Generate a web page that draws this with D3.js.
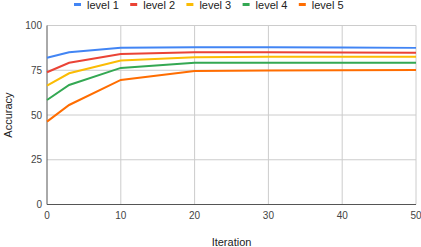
<!DOCTYPE html>
<html>
<head>
<meta charset="utf-8">
<script src="https://cdn.jsdelivr.net/npm/d3@7"></script>
<style>
  body { margin: 0; background: #fff; }
  text { font-family: "Liberation Sans", Arial, sans-serif; }
</style>
</head>
<body>
<div id="chart"></div>
<script>
const iterations = [0, 3, 10, 20, 30, 40, 50];
const seriesNames = ["level 1", "level 2", "level 3", "level 4", "level 5"];
const colors = ["#4285f4", "#ea4335", "#fbbc04", "#34a853", "#ff6d01"];
const level1 = [82.0, 85.0, 87.6, 87.8, 87.8, 87.7, 87.5];
const level2 = [73.9, 79.2, 84.1, 85.0, 85.0, 84.9, 84.8];
const level3 = [66.4, 73.3, 80.5, 82.3, 82.6, 82.6, 82.6];
const level4 = [58.4, 66.8, 76.3, 79.2, 79.2, 79.2, 79.2];
const level5 = [46.3, 55.6, 69.6, 74.6, 74.8, 75.0, 75.2];
const yTicks = [0, 25, 50, 75, 100];
const xTicks = [0, 10, 20, 30, 40, 50];

const series = [level1, level2, level3, level4, level5];

const width = 421, height = 247;
const margin = { top: 25.5, right: 5, bottom: 42.5, left: 47 };

const svg = d3.select("#chart").append("svg")
  .attr("width", width)
  .attr("height", height);

const x = d3.scaleLinear().domain([0, 50]).range([margin.left, width - margin.right]);
const y = d3.scaleLinear().domain([0, 100]).range([height - margin.bottom, margin.top]);

// grid
svg.append("g").selectAll("line.h")
  .data(yTicks.filter(d => d > 0))
  .enter().append("line")
  .attr("x1", margin.left).attr("x2", width - margin.right)
  .attr("y1", d => y(d)).attr("y2", d => y(d))
  .attr("stroke", "#cccccc").attr("stroke-width", 1);

svg.append("g").selectAll("line.v")
  .data(xTicks.filter(d => d > 0))
  .enter().append("line")
  .attr("x1", d => x(d)).attr("x2", d => x(d))
  .attr("y1", margin.top).attr("y2", y(0))
  .attr("stroke", "#cccccc").attr("stroke-width", 1);

// axes lines
svg.append("line")
  .attr("x1", x(0)).attr("x2", x(0))
  .attr("y1", margin.top).attr("y2", y(0))
  .attr("stroke", "#555").attr("stroke-width", 1);
svg.append("line")
  .attr("x1", x(0)).attr("x2", width - margin.right)
  .attr("y1", y(0)).attr("y2", y(0))
  .attr("stroke", "#555").attr("stroke-width", 1);

// tick labels
svg.append("g").selectAll("text")
  .data(yTicks)
  .enter().append("text")
  .attr("x", x(0) - 5)
  .attr("y", d => y(d))
  .attr("dy", "0.35em")
  .attr("text-anchor", "end")
  .attr("font-size", 10)
  .attr("fill", "#444")
  .text(d => d);

svg.append("g").selectAll("text")
  .data(xTicks)
  .enter().append("text")
  .attr("x", d => x(d))
  .attr("y", y(0) + 14)
  .attr("text-anchor", "middle")
  .attr("font-size", 10)
  .attr("fill", "#444")
  .text(d => d);

// axis titles
svg.append("text")
  .attr("x", (margin.left + width - margin.right) / 2)
  .attr("y", 246)
  .attr("text-anchor", "middle")
  .attr("font-size", 11)
  .attr("fill", "#222")
  .text("Iteration");

svg.append("text")
  .attr("transform", `translate(12, ${(margin.top + y(0)) / 2}) rotate(-90)`)
  .attr("text-anchor", "middle")
  .attr("font-size", 11)
  .attr("fill", "#222")
  .text("Accuracy");

// lines
const line = d3.line()
  .x((d, i) => x(iterations[i]))
  .y(d => y(d));

svg.append("g").selectAll("path")
  .data(series)
  .enter().append("path")
  .attr("d", line)
  .attr("fill", "none")
  .attr("stroke", (d, i) => colors[i])
  .attr("stroke-width", 2);

// legend
const itemW = 56.2;
const legendStart = 74;
const legend = svg.append("g").selectAll("g")
  .data(seriesNames)
  .enter().append("g")
  .attr("transform", (d, i) => `translate(${legendStart + i * itemW}, 4.5)`);

legend.append("line")
  .attr("x1", 0).attr("x2", 7)
  .attr("stroke", (d, i) => colors[i])
  .attr("stroke-width", 3);

legend.append("text")
  .attr("x", 13)
  .attr("y", 4)
  .attr("font-size", 11)
  .attr("fill", "#222")
  .text(d => d);
</script>
</body>
</html>
